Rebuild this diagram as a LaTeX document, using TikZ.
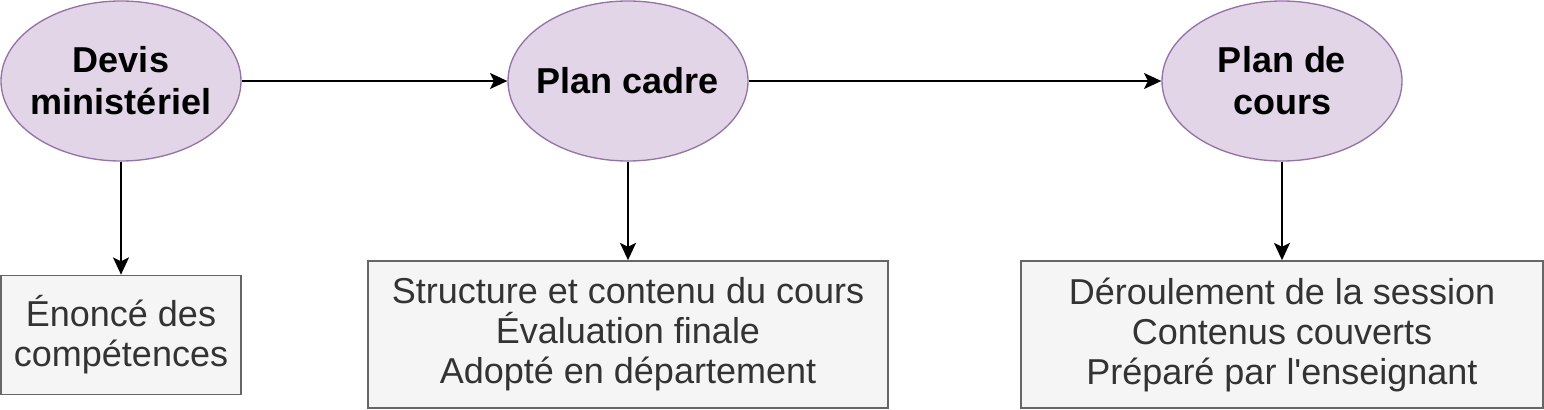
\documentclass[tikz,border=0pt]{standalone}
\usepackage{fontspec}
\setmainfont{Liberation Sans}
\newfontfamily\plainfont{Liberation Sans}
\usetikzlibrary{shapes.geometric,arrows.meta}
\definecolor{ovalfill}{HTML}{E1D5E7}
\definecolor{ovaldraw}{HTML}{9673A6}
\definecolor{boxfill}{HTML}{F5F5F5}
\definecolor{boxdraw}{HTML}{666666}
\definecolor{boxtext}{HTML}{333333}
\tikzset{
  oval/.style={ellipse, draw=ovaldraw, fill=ovalfill, line width=1pt, minimum width=180pt, minimum height=120pt, inner sep=0pt},
  ovaltext/.style={align=center, font=\fontsize{27}{31.5}\selectfont\bfseries, text=black, inner sep=0pt},
  infobox/.style={rectangle, draw=boxdraw, fill=boxfill, line width=1.2pt, align=center, text=boxtext, font=\fontsize{27}{30}\selectfont, inner sep=0pt},
  link/.style={line width=1.3pt, -{Stealth[length=13pt,width=12pt,inset=3pt]}}
}
\begin{document}
\begin{tikzpicture}[x=0.75pt,y=-0.75pt]
\useasboundingbox (0,0) rectangle (1544,410);
\node[oval] (e1) at (121,81) {};
\node[ovaltext] (t1) at (e1.center) {Devis\\ministériel};
\node[oval] (e2) at (628,81) {};
\node[ovaltext] (t2) at (e2.center) {Plan cadre};
\node[oval] (e3) at (1282,81) {};
\node[ovaltext] (t3) at (e3.center) {Plan de\\cours};
\node[infobox, minimum width=180pt, minimum height=89.25pt] (b1) at (121,335) {Énoncé des\\compétences};
\node[infobox, minimum width=390pt, minimum height=110.25pt] (b2) at (628,334.5) {Structure et contenu du cours\\Évaluation finale\\Adopté en département};
\node[infobox, minimum width=391.5pt, minimum height=110.25pt] (b3) at (1282,334.5) {Déroulement de la session\\Contenus couverts\\Préparé par l{\plainfont '}enseignant};
\draw[link] (e1.east) -- (e2.west);
\draw[link] (e2.east) -- (e3.west);
\draw[link] (e1.south) -- (b1.north);
\draw[link] (e2.south) -- (b2.north);
\draw[link] (e3.south) -- (b3.north);
\end{tikzpicture}
\end{document}
